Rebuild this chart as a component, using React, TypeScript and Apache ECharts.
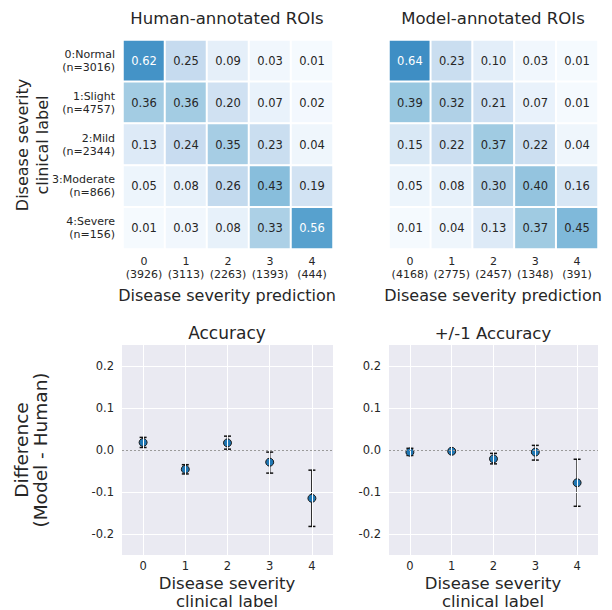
import React, { useEffect, useRef } from "react";
import * as echarts from "echarts";

const rowNames = ["0:Normal", "1:Slight", "2:Mild", "3:Moderate", "4:Severe"];
const rowCounts = [3016, 4757, 2344, 866, 156];
const predNames = ["0", "1", "2", "3", "4"];
const humanPredCounts = [3926, 3113, 2263, 1393, 444];
const modelPredCounts = [4168, 2775, 2457, 1348, 391];

const humanMatrix = [
  [0.62, 0.25, 0.09, 0.03, 0.01],
  [0.36, 0.36, 0.2, 0.07, 0.02],
  [0.13, 0.24, 0.35, 0.23, 0.04],
  [0.05, 0.08, 0.26, 0.43, 0.19],
  [0.01, 0.03, 0.08, 0.33, 0.56],
];
const modelMatrix = [
  [0.64, 0.23, 0.1, 0.03, 0.01],
  [0.39, 0.32, 0.21, 0.07, 0.01],
  [0.15, 0.22, 0.37, 0.22, 0.04],
  [0.05, 0.08, 0.3, 0.4, 0.16],
  [0.01, 0.04, 0.13, 0.37, 0.45],
];

const severityLevels = [0, 1, 2, 3, 4];
const accDiff = [0.018, -0.046, 0.017, -0.029, -0.115];
const accLow = [0.006, -0.057, 0.002, -0.055, -0.182];
const accHigh = [0.03, -0.035, 0.033, -0.005, -0.048];
const pm1Diff = [-0.005, -0.003, -0.021, -0.005, -0.078];
const pm1Low = [-0.013, -0.008, -0.033, -0.024, -0.134];
const pm1High = [0.004, 0.001, -0.008, 0.011, -0.022];
const yTicks = [-0.2, -0.1, 0.0, 0.1, 0.2];

const BLUES = ["#f7fbff", "#deebf7", "#c6dbef", "#9ecae1", "#6baed6", "#4292c6", "#2171b5", "#08519c", "#08306b"];
const TXT = "#262626";
const FONT = "DejaVu Sans";

function heatData(m: number[][]) {
  const out: any[] = [];
  m.forEach((row, r) =>
    row.forEach((v, c) => {
      out.push({ value: [c, r, v], label: { color: v > 0.5 ? "#ffffff" : TXT } });
    })
  );
  return out;
}

export default function App() {
  const ref = useRef<HTMLDivElement>(null);
  useEffect(() => {
    if (!ref.current) return;
    const chart = echarts.init(ref.current, null, { renderer: "svg" });

    const grids = [
      { left: 123, top: 40, width: 210, height: 209 },
      { left: 389, top: 40, width: 209, height: 209 },
      { left: 122, top: 345, width: 211, height: 210, show: true, backgroundColor: "#eaeaf2", borderWidth: 0 },
      { left: 389, top: 345, width: 209, height: 210, show: true, backgroundColor: "#eaeaf2", borderWidth: 0 },
    ];

    const heatX = (counts: number[], gi: number) => ({
      type: "category",
      gridIndex: gi,
      data: predNames.map((p, i) => `${p}\n(${counts[i]})`),
      axisLine: { show: false },
      axisTick: { show: false },
      splitLine: { show: false },
      axisLabel: { interval: 0, color: TXT, fontSize: 11, lineHeight: 13, margin: 6, fontFamily: FONT },
    });
    const heatY = (gi: number, showLabels: boolean) => ({
      type: "category",
      gridIndex: gi,
      inverse: true,
      data: rowNames.map((n, i) => `${n}\n(n=${rowCounts[i]})`),
      axisLine: { show: false },
      axisTick: { show: false },
      splitLine: { show: false },
      axisLabel: { interval: 0, show: showLabels, color: TXT, fontSize: 11, lineHeight: 13, margin: 8, align: "right", fontFamily: FONT },
    });
    const valX = (gi: number) => ({
      type: "value",
      gridIndex: gi,
      min: -0.5,
      max: 4.5,
      axisLine: { show: false },
      axisTick: { show: false, customValues: severityLevels },
      splitLine: { show: false },
      axisLabel: { color: TXT, fontSize: 11.5, margin: 5, customValues: severityLevels, fontFamily: FONT },
    });
    const valY = (gi: number) => ({
      type: "value",
      gridIndex: gi,
      min: -0.25,
      max: 0.25,
      axisLine: { show: false },
      axisTick: { show: false, customValues: yTicks },
      splitLine: { show: false },
      axisLabel: {
        color: TXT,
        fontSize: 11.5,
        margin: 8,
        customValues: yTicks,
        formatter: (v: number) => v.toFixed(1),
        fontFamily: FONT,
      },
    });

    const gridLines = (axisIdx: number) => ({
      type: "scatter",
      xAxisIndex: axisIdx,
      yAxisIndex: axisIdx,
      data: [],
      silent: true,
      z: 1,
      markLine: {
        silent: true,
        symbol: ["none", "none"],
        label: { show: false },
        lineStyle: { color: "#ffffff", width: 1, type: "solid" },
        emphasis: { disabled: true },
        data: [
          ...severityLevels.map((x) => ({ xAxis: x })),
          ...yTicks.filter((y) => y !== 0).map((y) => ({ yAxis: y })),
        ],
      },
    });

    const errBars = (axisIdx: number, lo: number[], hi: number[]) => ({
      type: "custom",
      xAxisIndex: axisIdx,
      yAxisIndex: axisIdx,
      z: 3,
      silent: true,
      encode: { x: 0, y: [1, 2] },
      data: severityLevels.map((x, i) => [x, lo[i], hi[i]]),
      renderItem: (params: any, api: any) => {
        const x = api.value(0);
        const a = api.coord([x, api.value(1)]);
        const b = api.coord([x, api.value(2)]);
        const hw = 3.5;
        const st = { stroke: "#111111", lineWidth: 1.5 };
        return {
          type: "group",
          children: [
            { type: "line", shape: { x1: a[0], y1: a[1], x2: b[0], y2: b[1] }, style: st },
            { type: "line", shape: { x1: a[0] - hw, y1: a[1], x2: a[0] + hw, y2: a[1] }, style: st },
            { type: "line", shape: { x1: b[0] - hw, y1: b[1], x2: b[0] + hw, y2: b[1] }, style: st },
          ],
        };
      },
    });

    const points = (axisIdx: number, vals: number[]) => ({
      type: "scatter",
      xAxisIndex: axisIdx,
      yAxisIndex: axisIdx,
      z: 4,
      symbol: "circle",
      symbolSize: 8,
      itemStyle: { color: "#1f77b4", borderColor: "#1a1a1a", borderWidth: 1, opacity: 1 },
      data: severityLevels.map((x, i) => [x, vals[i]]),
      markLine: {
        silent: true,
        symbol: ["none", "none"],
        label: { show: false },
        lineStyle: { color: "#9a9a9a", width: 1, type: [2, 2] },
        data: [{ yAxis: 0 }],
      },
    });

    const heatSeries = (gi: number, m: number[][]) => ({
      type: "heatmap",
      xAxisIndex: gi,
      yAxisIndex: gi,
      data: heatData(m),
      itemStyle: { borderColor: "#ffffff", borderWidth: 2 },
      label: {
        show: true,
        fontSize: 11.5,
        fontFamily: FONT,
        formatter: (p: any) => p.value[2].toFixed(2),
      },
      emphasis: { disabled: true },
    });

    const txt = (x: number, y: number, text: string, size: number, extra: any = {}) => ({
      type: "text",
      x,
      y,
      silent: true,
      ...extra,
      style: {
        text,
        fill: TXT,
        font: `${size}px "${FONT}"`,
        align: "center",
        verticalAlign: "middle",
        lineHeight: extra.lineHeight || size * 1.2,
      },
    });

    chart.setOption({
      animation: false,
      backgroundColor: "#ffffff",
      textStyle: { fontFamily: FONT },
      grid: grids,
      xAxis: [heatX(humanPredCounts, 0), heatX(modelPredCounts, 1), valX(2), valX(3)],
      yAxis: [heatY(0, true), heatY(1, false), valY(2), valY(3)],
      visualMap: {
        show: false,
        min: 0,
        max: 1,
        seriesIndex: [0, 1],
        dimension: 2,
        inRange: { color: BLUES },
      },
      series: [
        heatSeries(0, humanMatrix),
        heatSeries(1, modelMatrix),
        gridLines(2),
        gridLines(3),
        errBars(2, accLow, accHigh),
        errBars(3, pm1Low, pm1High),
        points(2, accDiff),
        points(3, pm1Diff),
      ],
      graphic: [
        txt(227, 18, "Human-annotated ROIs", 16.5),
        txt(493, 18, "Model-annotated ROIs", 16.5),
        txt(227, 295, "Disease severity prediction", 16),
        txt(493, 295, "Disease severity prediction", 16),
        { ...txt(32, 145, "Disease severity\nclinical label", 16, { lineHeight: 20 }), rotation: Math.PI / 2 },
        txt(227, 333, "Accuracy", 17),
        txt(493, 333, "+/-1 Accuracy", 16.5),
        txt(227, 592, "Disease severity\nclinical label", 16.5, { lineHeight: 18 }),
        txt(493, 592, "Disease severity\nclinical label", 16.5, { lineHeight: 18 }),
        { ...txt(31, 450, "Difference\n(Model - Human)", 18.5, { lineHeight: 19 }), rotation: Math.PI / 2 },
      ],
    });

    return () => chart.dispose();
  }, []);

  return <div ref={ref} style={{ position: "absolute", left: 0, top: 0, width: 612, height: 610 }} />;
}
